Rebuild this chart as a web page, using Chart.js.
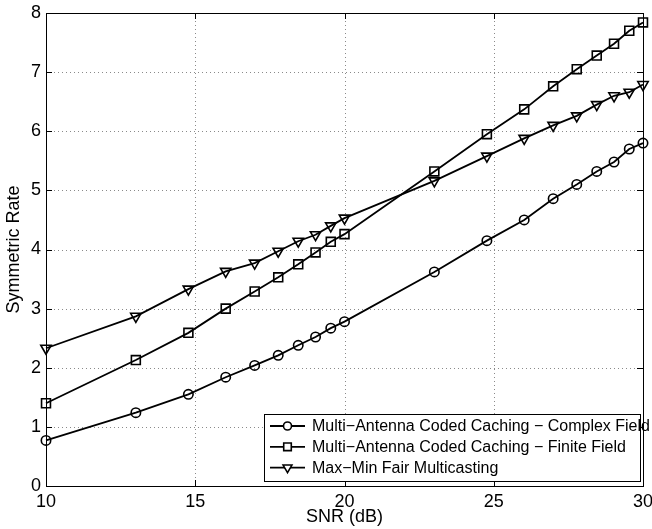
<!DOCTYPE html>
<html>
<head>
<meta charset="utf-8">
<script src="https://cdn.jsdelivr.net/npm/chart.js@4.4.1/dist/chart.umd.min.js"></script>
<style>
html,body{margin:0;padding:0;background:#fff;}
#wrap{width:652px;height:529px;position:relative;}
</style>
</head>
<body>
<div id="wrap"><canvas id="c" width="652" height="529"></canvas></div>
<script>
const snrDb = [10, 13.01, 14.77, 16.02, 16.99, 17.78, 18.45, 19.03, 19.54, 20, 23.01, 24.77, 26.02, 26.99, 27.78, 28.45, 29.03, 29.54, 30];
const complexField = [0.77, 1.24, 1.55, 1.84, 2.04, 2.21, 2.38, 2.52, 2.67, 2.78, 3.62, 4.15, 4.50, 4.86, 5.10, 5.32, 5.48, 5.70, 5.80];
const finiteField = [1.40, 2.13, 2.59, 3.00, 3.29, 3.53, 3.75, 3.95, 4.13, 4.26, 5.32, 5.95, 6.37, 6.76, 7.05, 7.28, 7.48, 7.70, 7.84];
const maxMinFair = [2.33, 2.87, 3.33, 3.63, 3.77, 3.97, 4.14, 4.25, 4.40, 4.53, 5.16, 5.58, 5.88, 6.10, 6.26, 6.45, 6.60, 6.66, 6.79];
const seriesNames = ['Multi\u2212Antenna Coded Caching \u2212 Complex Field', 'Multi\u2212Antenna Coded Caching \u2212 Finite Field', 'Max\u2212Min Fair Multicasting'];
const xTitle = 'SNR (dB)';
const yTitle = 'Symmetric Rate';

const FONT = "'Liberation Sans', Arial, sans-serif";
function toPts(ys){ return snrDb.map((x,i)=>({x:x, y:ys[i]})); }

const markerDefs = [
  {style:'circle', radius:4.7, rotation:0},
  {style:'rect', radius:6.3, rotation:0},
  {style:'triangle', radius:6, rotation:180}
];
const seriesData = [complexField, finiteField, maxMinFair];

const datasets = seriesData.map((d,i)=>({
  label: seriesNames[i],
  data: toPts(d),
  borderColor: '#000',
  backgroundColor: 'rgba(0,0,0,0)',
  borderWidth: 1.8,
  pointStyle: markerDefs[i].style,
  pointRadius: markerDefs[i].radius,
  pointRotation: markerDefs[i].rotation,
  pointBorderWidth: 1.6,
  pointBorderColor: '#000',
  pointBackgroundColor: 'rgba(0,0,0,0)',
  tension: 0,
  clip: false
}));

const framePlugin = {
  id: 'frame',
  beforeDatasetsDraw(chart){
    const {ctx, chartArea:a, scales} = chart;
    ctx.save();
    ctx.strokeStyle = '#8a8a8a';
    ctx.lineWidth = 1;
    ctx.setLineDash([1,3]);
    ctx.beginPath();
    scales.x.ticks.forEach(t=>{
      const px = Math.round(scales.x.getPixelForValue(t.value)) + 0.5;
      ctx.moveTo(px, a.bottom); ctx.lineTo(px, a.top);
    });
    scales.y.ticks.forEach(t=>{
      const py = Math.round(scales.y.getPixelForValue(t.value)) + 0.5;
      ctx.moveTo(a.left, py); ctx.lineTo(a.right, py);
    });
    ctx.stroke();
    ctx.setLineDash([]);
    ctx.strokeStyle = '#000';
    const L = 6;
    ctx.beginPath();
    scales.x.ticks.forEach(t=>{
      const px = Math.round(scales.x.getPixelForValue(t.value)) + 0.5;
      ctx.moveTo(px, a.bottom); ctx.lineTo(px, a.bottom - L);
      ctx.moveTo(px, a.top); ctx.lineTo(px, a.top + L);
    });
    scales.y.ticks.forEach(t=>{
      const py = Math.round(scales.y.getPixelForValue(t.value)) + 0.5;
      ctx.moveTo(a.left, py); ctx.lineTo(a.left + L, py);
      ctx.moveTo(a.right, py); ctx.lineTo(a.right - L, py);
    });
    ctx.stroke();
    ctx.strokeRect(Math.round(a.left)+0.5, Math.round(a.top)+0.5, Math.round(a.right-a.left), Math.round(a.bottom-a.top));
    ctx.restore();
  },
  afterDraw(chart){
    const {ctx, chartArea:a} = chart;
    const right = a.right - 3, bottom = a.bottom - 5;
    const w = 376, h = 67;
    const left = right - w, top = bottom - h;
    ctx.save();
    ctx.fillStyle = '#fff';
    ctx.fillRect(left, top, w, h);
    ctx.strokeStyle = '#000';
    ctx.lineWidth = 1;
    ctx.strokeRect(Math.round(left)+0.5, Math.round(top)+0.5, w, h);
    ctx.font = '16px ' + FONT;
    ctx.textBaseline = 'middle';
    chart.data.datasets.forEach((ds,i)=>{
      const y = top + 12 + i*20.8;
      const x0 = left + 6, x1 = left + 41;
      ctx.strokeStyle = '#000';
      ctx.beginPath();
      ctx.lineWidth = 1.8;
      ctx.moveTo(x0, y); ctx.lineTo(x1, y); ctx.stroke();
      ctx.lineWidth = 1.6;
      ctx.fillStyle = '#fff';
      Chart.helpers.drawPoint(ctx, {pointStyle: ds.pointStyle, radius: ds.pointRadius * 0.85, rotation: ds.pointRotation, borderWidth:1.6}, (x0+x1)/2, y);
      ctx.fillStyle = '#000';
      ctx.fillText(ds.label, left + 48, y + 1);
    });
    ctx.restore();
  }
};

new Chart(document.getElementById('c'), {
  type: 'line',
  data: { datasets },
  options: {
    responsive: false,
    animation: false,
    devicePixelRatio: 1,
    layout: { padding: { top: 13, right: 9, left: 0, bottom: 0 } },
    plugins: { legend: { display: false }, tooltip: { enabled: false } },
    scales: {
      x: {
        type: 'linear', min: 10, max: 30,
        ticks: { stepSize: 5, color: '#000', font: { family: FONT, size: 18 }, padding: 5, maxRotation: 0 },
        grid: { display: false, drawTicks: false },
        border: { display: false },
        title: { display: true, text: xTitle, color: '#000', font: { family: FONT, size: 18 }, padding: { top: 0, bottom: 1 } },
        afterFit(s){ s.height = 43; s.paddingLeft = 0; s.paddingRight = 0; }
      },
      y: {
        min: 0, max: 8,
        ticks: { stepSize: 1, color: '#000', font: { family: FONT, size: 18 }, padding: 5 },
        grid: { display: false, drawTicks: false },
        border: { display: false },
        title: { display: true, text: yTitle, color: '#000', font: { family: FONT, size: 18 }, padding: { top: 3, bottom: 0 } },
        afterFit(s){ s.width = 46; s.paddingTop = 0; s.paddingBottom = 0; }
      }
    }
  },
  plugins: [framePlugin]
});
</script>
</body>
</html>
